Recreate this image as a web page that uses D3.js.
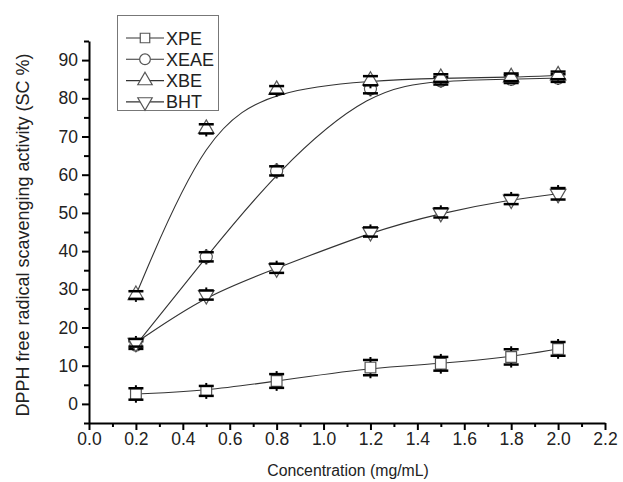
<!DOCTYPE html>
<html>
<head>
<meta charset="utf-8">
<script src="https://cdn.jsdelivr.net/npm/d3@7"></script>
<style>
  body { margin: 0; background: #fff; }
  svg { display: block; font-family: "Liberation Sans", Arial, sans-serif; }
</style>
</head>
<body>
<svg id="chart" width="623" height="482"></svg>
<script>
// concentrations (mg/mL)
var conc = [0.2, 0.5, 0.8, 1.2, 1.5, 1.8, 2.0];

// scavenging activity (SC %) and error for each extract
var xpe = [2.6, 3.4, 6.0, 9.5, 10.5, 12.3, 14.4];
var xpeErr = [1.5, 1.3, 1.8, 2.0, 1.8, 2.0, 1.8];
var xeae = [15.4, 38.5, 61.0, 82.5, 84.6, 85.0, 85.3];
var xeaeErr = [1.0, 1.2, 1.2, 1.2, 1.0, 1.0, 1.0];
var xbe = [28.5, 72.0, 82.2, 84.6, 85.3, 85.5, 86.0];
var xbeErr = [1.0, 1.2, 1.0, 1.2, 1.0, 1.0, 1.0];
var bht = [16.0, 28.5, 35.5, 45.0, 50.0, 53.5, 55.0];
var bhtErr = [1.0, 1.2, 1.2, 1.2, 1.2, 1.2, 1.5];

var seriesNames = ["XPE", "XEAE", "XBE", "BHT"];
var xTicks = [0.0, 0.2, 0.4, 0.6, 0.8, 1.0, 1.2, 1.4, 1.6, 1.8, 2.0, 2.2];
var yTicks = [0, 10, 20, 30, 40, 50, 60, 70, 80, 90];

var series = [
  {name: "XPE", values: xpe, err: xpeErr, symbol: d3.symbolSquare, size: 115},
  {name: "XEAE", values: xeae, err: xeaeErr, symbol: d3.symbolCircle, size: 115},
  {name: "XBE", values: xbe, err: xbeErr, symbol: d3.symbolTriangle, size: 105, rot: 0},
  {name: "BHT", values: bht, err: bhtErr, symbol: d3.symbolTriangle, size: 105, rot: 180}
];

var svg = d3.select("#chart");

var x = d3.scaleLinear().domain([0, 2.2]).range([89, 605]);
var y = d3.scaleLinear().domain([-5, 95]).range([423, 41]);

// minor ticks
svg.append("g")
  .attr("transform", "translate(0,423)")
  .call(d3.axisBottom(x).tickValues(d3.range(0.1, 2.2, 0.2)).tickSize(4).tickFormat(""))
  .call(function(g) { g.select(".domain").remove(); })
  .selectAll("line").attr("stroke-width", 2);

svg.append("g")
  .attr("transform", "translate(89,0)")
  .call(d3.axisLeft(y).tickValues(d3.range(-5, 96, 10)).tickSize(5).tickFormat(""))
  .call(function(g) { g.select(".domain").remove(); })
  .selectAll("line").attr("stroke-width", 2);

// major ticks and labels
var xAxis = svg.append("g")
  .attr("transform", "translate(0,423)")
  .call(d3.axisBottom(x).tickValues(xTicks).tickSize(7).tickSizeOuter(0).tickPadding(3)
    .tickFormat(d3.format(".1f")));

var yAxis = svg.append("g")
  .attr("transform", "translate(89,0)")
  .call(d3.axisLeft(y).tickValues(yTicks).tickSize(7).tickSizeOuter(0).tickPadding(4));

[xAxis, yAxis].forEach(function(g) {
  g.select(".domain").attr("stroke-width", 2);
  g.selectAll(".tick line").attr("stroke-width", 2);
  g.selectAll("text").attr("font-size", 17.5).attr("fill", "#222")
    .attr("font-family", "Liberation Sans, Arial, sans-serif");
});

// axis titles
svg.append("text")
  .attr("x", 348).attr("y", 476)
  .attr("text-anchor", "middle")
  .attr("font-size", 15.8).attr("fill", "#222")
  .text("Concentration (mg/mL)");

svg.append("text")
  .attr("transform", "translate(29,235) rotate(-90)")
  .attr("text-anchor", "middle")
  .attr("font-size", 18).attr("fill", "#222")
  .text("DPPH free radical scavenging activity (SC %)");

// smooth curves
var line = d3.line()
  .x(function(d) { return x(d[0]); })
  .y(function(d) { return y(d[1]); })
  .curve(d3.curveBasis);

series.forEach(function(s) {
  var pts = conc.map(function(c, i) { return [c, s.values[i]]; });
  svg.append("path")
    .attr("d", line(pts))
    .attr("fill", "none")
    .attr("stroke", "#333")
    .attr("stroke-width", 1.1);
});

// error stems, markers, caps
series.forEach(function(s) {
  var g = svg.append("g");
  conc.forEach(function(c, i) {
    var cx = x(c), v = s.values[i], e = s.err[i];
    g.append("line")
      .attr("x1", cx).attr("x2", cx)
      .attr("y1", y(v - e) + 3).attr("y2", y(v + e) - 3)
      .attr("stroke", "#000").attr("stroke-width", 2);
  });
  conc.forEach(function(c, i) {
    g.append("path")
      .attr("d", d3.symbol().type(s.symbol).size(s.size)())
      .attr("transform", "translate(" + x(c) + "," + y(s.values[i]) + ")" +
        (s.rot ? " rotate(" + s.rot + ")" : ""))
      .attr("fill", "#fff")
      .attr("stroke", "#555")
      .attr("stroke-width", 1.2);
  });
  conc.forEach(function(c, i) {
    var cx = x(c), v = s.values[i], e = s.err[i];
    [v - e, v + e].forEach(function(w) {
      g.append("line")
        .attr("x1", cx - 7.5).attr("x2", cx + 7.5)
        .attr("y1", y(w)).attr("y2", y(w))
        .attr("stroke", "#000").attr("stroke-width", 2.5);
    });
  });
});

// legend
var legend = svg.append("g");
legend.append("rect")
  .attr("x", 117.5).attr("y", 15.5)
  .attr("width", 101).attr("height", 95)
  .attr("fill", "#fff").attr("stroke", "#777").attr("stroke-width", 1);

series.forEach(function(s, i) {
  var ly = 38 + i * 21.3;
  legend.append("line")
    .attr("x1", 126).attr("x2", 164)
    .attr("y1", ly).attr("y2", ly)
    .attr("stroke", "#333").attr("stroke-width", 1.1);
  legend.append("path")
    .attr("d", d3.symbol().type(s.symbol).size(90)())
    .attr("transform", "translate(145," + ly + ")" + (s.rot ? " rotate(" + s.rot + ")" : ""))
    .attr("fill", "#fff").attr("stroke", "#555").attr("stroke-width", 1.2);
  legend.append("text")
    .attr("x", 166).attr("y", ly + 6.5)
    .attr("font-size", 18).attr("fill", "#222")
    .text(seriesNames[i]);
});
</script>
</body>
</html>
